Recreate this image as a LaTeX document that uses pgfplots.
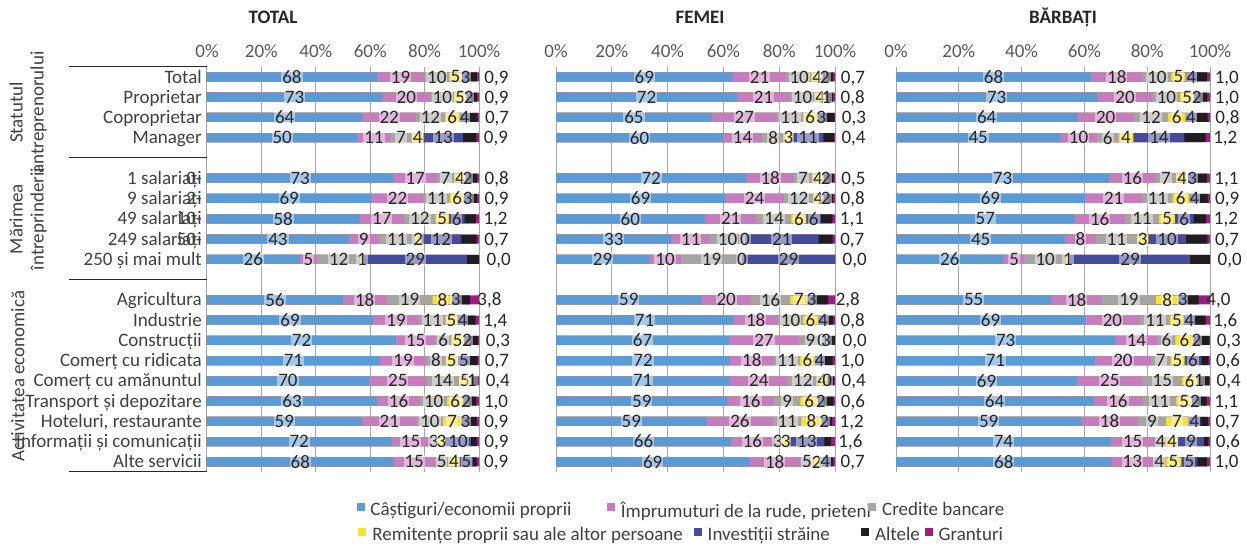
\documentclass[border=0pt]{standalone}
\usepackage{fontspec}
\setmainfont{Carlito}
\usepackage{pgfplots}
\usepackage{pgfplotstable}
\pgfplotsset{compat=1.18}

\definecolor{cA}{HTML}{5B9BD5}
\definecolor{cB}{HTML}{C77CBD}
\definecolor{cC}{HTML}{A5A5A5}
\definecolor{cD}{HTML}{FFE12B}
\definecolor{cE}{HTML}{444A9C}
\definecolor{cF}{HTML}{1E1E1E}
\definecolor{cG}{HTML}{9E1C82}
\definecolor{txt}{HTML}{262626}
\definecolor{txtb}{HTML}{404040}
\definecolor{tickc}{HTML}{595959}
\definecolor{gridc}{HTML}{A6A6A6}
\newcommand{\fs}{\fontsize{19}{21}\selectfont}

% a: Castiguri, b: Imprumuturi, c: Credite, d: Remitente, e: Investitii, f: Altele, g: Granturi
\pgfplotstableread{
y a b c d e f g
0 68 19 10 5 3 3.0 0.9
1 73 20 10 5 2 2.4 0.9
2 64 22 12 6 4 3.3 0.7
3 50 11 7 4 13 4.5 0.9
5 73 17 7 4 2 2.7 0.8
6 69 22 11 6 3 2.3 0.9
7 58 17 12 5 6 4.3 1.2
8 43 9 11 2 12 4.7 0.7
9 26 5 12 1 29 3.4 0.0
11 56 18 19 8 3 4.3 3.8
12 69 19 11 5 4 3.5 1.4
13 72 15 6 5 2 3.3 0.3
14 71 19 8 5 5 3.0 0.7
15 70 25 14 5 1 2.2 0.4
16 63 16 10 6 2 2.8 1.0
17 59 21 10 7 3 2.8 0.9
18 72 15 3 3 10 2.3 0.9
19 68 15 5 4 5 1.2 0.9
}\tabT

\pgfplotstableread{
y a b c d e f g
0 69 21 10 4 2 2.3 0.7
1 72 21 10 4 1 2.1 0.8
2 65 27 11 6 3 4.0 0.3
3 60 14 8 3 11 3.8 0.4
5 72 18 7 4 2 2.0 0.5
6 69 24 12 4 2 2.0 0.8
7 60 21 14 6 6 4.5 1.1
8 33 11 10 0 21 4.0 0.7
9 29 10 19 0 29 0.0 0.0
11 59 20 16 7 3 5.3 2.8
12 71 18 10 6 4 2.0 0.8
13 67 27 9 0 3 2.0 0.0
14 72 18 11 6 4 3.4 1.0
15 71 24 12 4 0 2.8 0.4
16 59 16 9 6 2 3.3 0.6
17 59 26 11 8 2 2.0 1.2
18 66 16 3 3 13 2.5 1.6
19 69 18 5 2 4 0.8 0.7
}\tabF

\pgfplotstableread{
y a b c d e f g
0 68 18 10 5 4 3.5 1.0
1 73 20 10 5 2 2.8 1.0
2 64 20 12 6 4 4.0 0.8
3 45 10 6 4 14 5.8 1.2
5 73 16 7 4 3 3.5 1.1
6 69 21 11 6 4 2.8 0.9
7 57 16 11 5 6 4.0 1.2
8 45 8 11 3 10 5.7 0.7
9 26 5 10 1 29 4.8 0.0
11 55 18 19 8 3 4.2 4.0
12 69 20 11 5 4 4.0 1.6
13 73 14 6 6 2 3.2 0.3
14 71 20 7 5 6 2.5 0.6
15 69 25 15 6 1 3.3 0.4
16 64 16 11 5 2 2.8 1.1
17 59 18 9 7 4 2.3 0.7
18 74 15 4 4 9 1.5 0.6
19 68 13 4 5 5 3.0 1.0
}\tabB

\newcommand{\SA}{(\thisrow{a})}
\newcommand{\SB}{(\thisrow{a}+\thisrow{b})}
\newcommand{\SC}{(\thisrow{a}+\thisrow{b}+\thisrow{c})}
\newcommand{\SD}{(\thisrow{a}+\thisrow{b}+\thisrow{c}+\thisrow{d})}
\newcommand{\SE}{(\thisrow{a}+\thisrow{b}+\thisrow{c}+\thisrow{d}+\thisrow{e})}
\newcommand{\SF}{(\thisrow{a}+\thisrow{b}+\thisrow{c}+\thisrow{d}+\thisrow{e}+\thisrow{f})}
\newcommand{\ST}{(\thisrow{a}+\thisrow{b}+\thisrow{c}+\thisrow{d}+\thisrow{e}+\thisrow{f}+\thisrow{g})}

\pgfplotsset{
  /pgf/number format/assume math mode=true,
  seg/.style={xbar, bar width=9pt, bar shift=0pt, draw=none, fill=#1, forget plot},
  lbl/.style={only marks, mark=none, forget plot, nodes near coords, point meta=explicit,
     every node near coord/.append style={anchor=center, font=\fs, text=txt, fill=white,
       fill opacity=0.45, text opacity=1, inner sep=1pt}},
  panel/.style={scale only axis, height=405.2pt, xmin=0, xmax=100, ymin=-0.5, ymax=19.5,
     y dir=reverse, anchor=south west,
     axis line style={draw=none}, tick style={draw=none}, major tick length=0pt,
     xtick={0,20,40,60,80,100},
     xticklabels={0\%,20\%,40\%,60\%,80\%,100\%}, xticklabel pos=upper,
     xticklabel style={font=\fs, text=tickc, yshift=6pt},
     xmajorgrids, major grid style={draw=gridc, line width=1pt}, clip=false,
     legend columns=-1,
     legend style={draw=none, fill=none, inner sep=0pt, outer sep=0pt, anchor=west,
       font=\fs, text=txtb, nodes={inner sep=0pt},
       /tikz/every odd column/.append style={column sep=6.5pt}}}
}

\newcommand{\bars}[1]{%
  \addplot[seg=cG] table[y=y, x expr={100}] {#1};
  \addplot[seg=cF] table[y=y, x expr={100*\SF/\ST}] {#1};
  \addplot[seg=cE] table[y=y, x expr={100*\SE/\ST}] {#1};
  \addplot[seg=cD] table[y=y, x expr={100*\SD/\ST}] {#1};
  \addplot[seg=cC] table[y=y, x expr={100*\SC/\ST}] {#1};
  \addplot[seg=cB] table[y=y, x expr={100*\SB/\ST}] {#1};
  \addplot[seg=cA] table[y=y, x expr={100*\SA/\ST}] {#1};
  \addplot[lbl] table[y=y, x expr={50*\thisrow{a}/\ST}, meta=a] {#1};
  \addplot[lbl] table[y=y, x expr={100*(\SA+\thisrow{b}/2)/\ST}, meta=b] {#1};
  \addplot[lbl] table[y=y, x expr={100*(\SB+\thisrow{c}/2)/\ST}, meta=c] {#1};
  \addplot[lbl] table[y=y, x expr={100*(\SC+\thisrow{d}/2)/\ST}, meta=d] {#1};
  \addplot[lbl] table[y=y, x expr={100*(\SD+\thisrow{e}/2)/\ST}, meta=e] {#1};
  \addplot[only marks, mark=none, forget plot, point meta=explicit,
    nodes near coords={\pgfmathprintnumber[fixed,fixed zerofill,precision=1,use comma]{\pgfplotspointmeta}},
    every node near coord/.append style={anchor=base west, font=\fs, text=txt, inner sep=0pt,
      xshift=7.5pt, yshift=-6.1pt}]
    table[y=y, x expr={100*\SF/\ST}, meta=g] {#1};
}

\begin{document}
\begin{tikzpicture}
% ---------- TOTAL ----------
\begin{axis}[panel, at={(207pt,74pt)}, width=272pt,
  ytick={0,1,2,3,5,6,7,8,9,11,12,13,14,15,16,17,18,19},
  yticklabels={Total,Proprietar,Coproprietar,Manager,1 salariați,9 salariați,49 salariați,249 salariați,250 și mai mult,Agricultura,Industrie,Construcții,Comerț cu ridicata,Comerț cu amănuntul,Transport și depozitare,{Hoteluri, restaurante},Informații și comunicații,Alte servicii},
  yticklabel style={font=\fs, text=txtb, inner sep=0pt, anchor=base east, xshift=-5pt, yshift=-6.1pt}]
\bars{\tabT}
\foreach \yy/\pp in {5/0-,6/2-,7/10-,8/50-}{
  \edef\tmp{\noexpand\node[font=\noexpand\fs, text=txtb, inner sep=0pt, anchor=base east, xshift=-5pt, yshift=-6.1pt] at (axis cs:0,\yy) {\pp};}\tmp
}
\end{axis}
% ---------- FEMEI ----------
\begin{axis}[panel, at={(556pt,74pt)}, width=279pt, ytick=\empty,
  legend style={at={(axis description cs:-0.715,-0.0938)}}]
\bars{\tabF}
\addlegendimage{legend image code/.code={\fill[cA] (0pt,0pt) rectangle (7pt,7pt);}}
\addlegendentry{\makebox[236.5pt][l]{Câștiguri/economii proprii}}
\addlegendimage{legend image code/.code={\fill[cB] (0pt,0pt) rectangle (7pt,7pt);}}
\addlegendentry{\makebox[247.5pt][l]{Împrumuturi de la rude, prieteni}}
\addlegendimage{legend image code/.code={\fill[cC] (0pt,0pt) rectangle (7pt,7pt);}}
\addlegendentry{Credite bancare}
\end{axis}
% ---------- BARBATI ----------
\begin{axis}[panel, at={(896pt,74pt)}, width=314pt, ytick=\empty,
  legend style={at={(axis description cs:-1.712,-0.1555)}}]
\bars{\tabB}
\addlegendimage{legend image code/.code={\fill[cD] (0pt,0pt) rectangle (7pt,7pt);}}
\addlegendentry{\makebox[321.5pt][l]{Remitențe proprii sau ale altor persoane}}
\addlegendimage{legend image code/.code={\fill[cE] (0pt,0pt) rectangle (7pt,7pt);}}
\addlegendentry{\makebox[153.5pt][l]{Investiții străine}}
\addlegendimage{legend image code/.code={\fill[cF] (0pt,0pt) rectangle (7pt,7pt);}}
\addlegendentry{\makebox[49.5pt][l]{Altele}}
\addlegendimage{legend image code/.code={\fill[cG] (0pt,0pt) rectangle (7pt,7pt);}}
\addlegendentry{Granturi}
\end{axis}
% titles
\node[font=\bfseries\fs, text=txt] at (273pt,529pt) {TOTAL};
\node[font=\bfseries\fs, text=txt] at (700pt,529pt) {FEMEI};
\node[font=\bfseries\fs, text=txt] at (1063pt,529pt) {BĂRBAȚI};
% group separators
\foreach \yy in {479.2,388.0,266.4,74}{\draw[line width=1pt, draw=black!85] (69pt,\yy pt) -- (207pt,\yy pt);}
% group labels
\node[font=\fs, text=txtb, rotate=90, align=center, inner sep=0pt] at (28pt,433.5pt) {\fontsize{19}{18}\selectfont Statutul\\antreprenorului};
\node[font=\fs, text=txtb, rotate=90, align=center, inner sep=0pt] at (28pt,327pt) {\fontsize{19}{18}\selectfont Mărimea\\întreprinderii};
\node[font=\fs, text=txtb, rotate=90, inner sep=0pt] at (18pt,170pt) {Activitatea economică};
\pgfresetboundingbox
\useasboundingbox (0pt,0pt) rectangle (1247pt,546pt);
\end{tikzpicture}
\end{document}
